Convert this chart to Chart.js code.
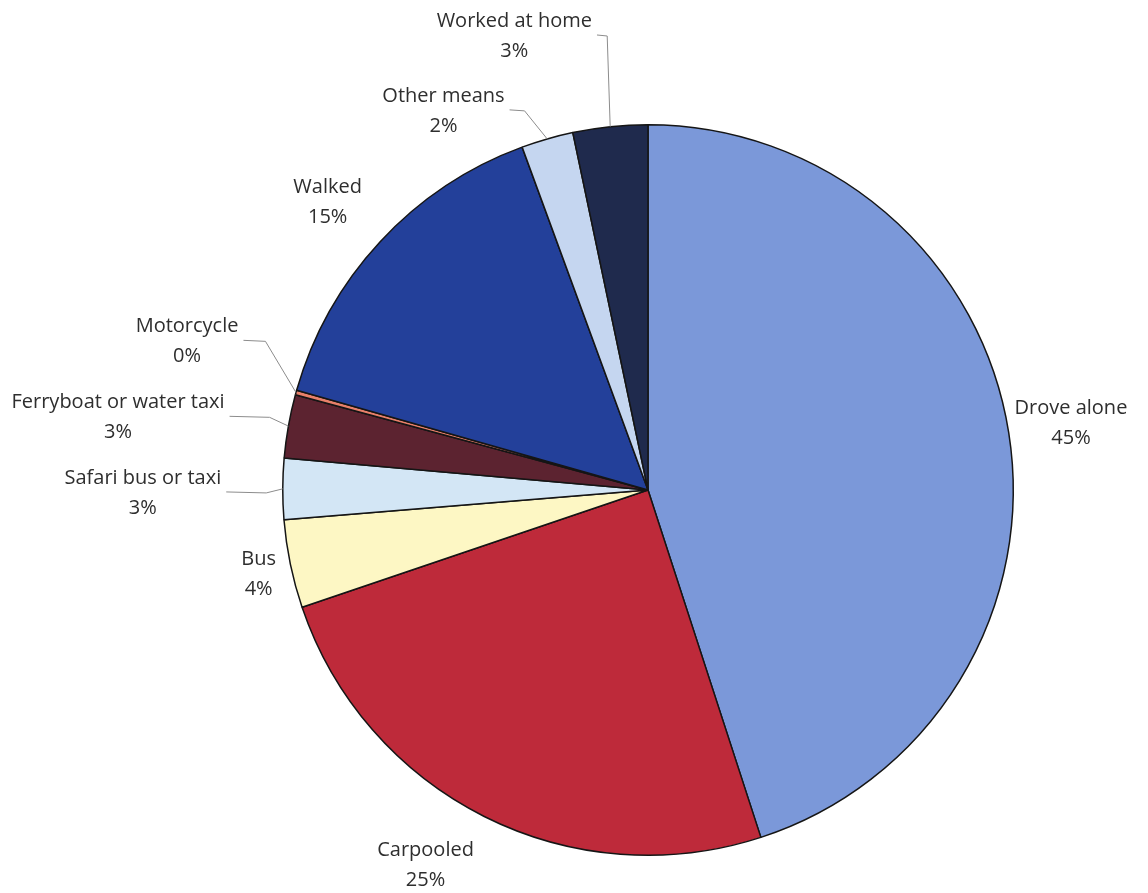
<!DOCTYPE html>
<html>
<head>
<meta charset="utf-8">
<script src="https://cdn.jsdelivr.net/npm/chart.js@4.4.1/dist/chart.umd.min.js"></script>
<style>
  html, body { margin: 0; padding: 0; background: #ffffff; }
  #wrap { width: 1148px; height: 893px; position: relative; }
</style>
</head>
<body>
<div id="wrap"><canvas id="pieChart" width="1148" height="893"></canvas></div>
<script>
// categories, clockwise from 12 o'clock
const modes = [
    'Drove alone', 'Carpooled', 'Bus', 'Safari bus or taxi',
    'Ferryboat or water taxi', 'Motorcycle', 'Walked', 'Other means', 'Worked at home'
];
// slice shares (%)
const shares = [45.0, 24.8, 3.9, 2.7, 2.8, 0.2, 15.0, 2.3, 3.3];
// percentages as printed on the labels
const shareLabels = ['45%', '25%', '4%', '3%', '3%', '0%', '15%', '2%', '3%'];

const sliceColors = [
    '#7b98d9', '#be2a3a', '#fdf7c4', '#d3e6f5',
    '#5c2330', '#e8806a', '#23409a', '#c5d6f0', '#1f2a4d'
];

// label centre relative to pie centre, in units of radius; lead = elbow length of leader line (0 = none)
const labelLayout = [
    { x:  1.158, y: -0.183, lead: 0 },
    { x: -0.609, y:  1.027, lead: 0 },
    { x: -1.066, y:  0.232, lead: 0 },
    { x: -1.383, y:  0.008, lead: 40 },
    { x: -1.451, y: -0.199, lead: 40 },
    { x: -1.262, y: -0.407, lead: 22 },
    { x: -0.877, y: -0.787, lead: 0 },
    { x: -0.560, y: -1.038, lead: 15 },
    { x: -0.366, y: -1.243, lead: 17 }
];

const FONT = '20px "Open Sans", Lato, sans-serif';
const TEXT_COLOR = '#2e2e2e';
const LEADER_COLOR = '#8c8c8c';

const outsideLabels = {
    id: 'outsideLabels',
    afterDraw(chart) {
        const ctx = chart.ctx;
        const arcs = chart.getDatasetMeta(0).data;
        ctx.save();
        ctx.font = FONT;
        ctx.textAlign = 'center';
        ctx.textBaseline = 'middle';
        arcs.forEach((arc, i) => {
            const cx = arc.x, cy = arc.y, r = arc.outerRadius;
            const lay = labelLayout[i];
            const lx = cx + lay.x * r;
            const ly = cy + lay.y * r;
            const y1 = ly - 15, y2 = ly + 15;

            if (lay.lead > 0) {
                const mid = (arc.startAngle + arc.endAngle) / 2;
                const ex = cx + Math.cos(mid) * r;
                const ey = cy + Math.sin(mid) * r;
                const w = ctx.measureText(modes[i]).width;
                const ax = lx + w / 2 + 5;
                const ay = y1 + 14;
                ctx.strokeStyle = LEADER_COLOR;
                ctx.lineWidth = 1;
                ctx.beginPath();
                ctx.moveTo(ax, ay);
                ctx.lineTo(Math.min(ax + lay.lead, ex - 3), ay + 1);
                ctx.lineTo(ex, ey);
                ctx.stroke();
            }

            ctx.fillStyle = TEXT_COLOR;
            ctx.fillText(modes[i], lx, y1);
            ctx.fillText(shareLabels[i], lx, y2);
        });
        ctx.restore();
    }
};

new Chart(document.getElementById('pieChart'), {
    type: 'pie',
    data: {
        labels: modes,
        datasets: [{
            data: shares,
            backgroundColor: sliceColors,
            borderColor: '#151515',
            borderWidth: 1.5
        }]
    },
    options: {
        responsive: false,
        animation: false,
        layout: { padding: { left: 282, right: 134, top: 124, bottom: 37 } },
        plugins: {
            legend: { display: false },
            tooltip: { enabled: false }
        }
    },
    plugins: [outsideLabels]
});
</script>
</body>
</html>
